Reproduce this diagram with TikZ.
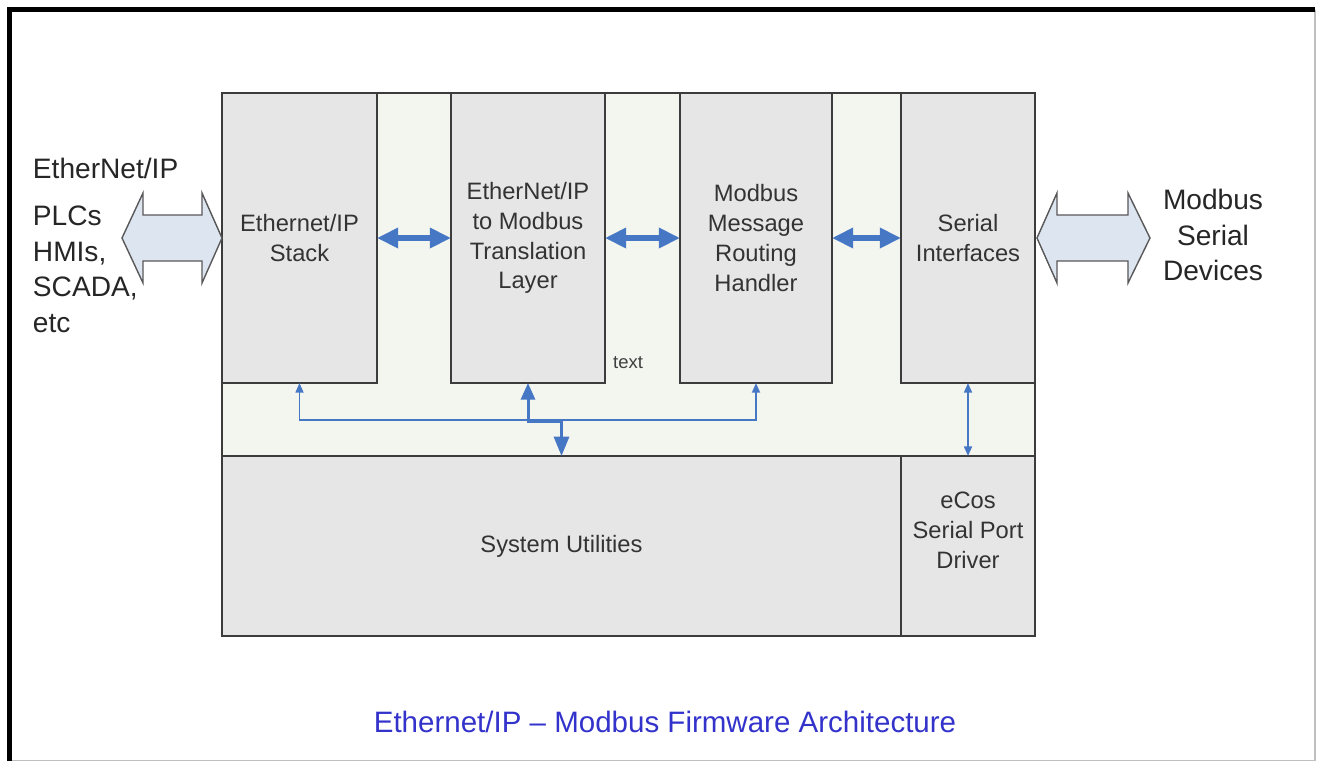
\documentclass[tikz,border=0pt]{standalone}
\usepackage{fontspec}
\setmainfont{Liberation Sans}
\usepackage{tikz}
\usetikzlibrary{arrows.meta}
\usetikzlibrary{shapes}
\definecolor{boxgray}{HTML}{E6E6E6}
\definecolor{bandgreen}{HTML}{F3F5EF}
\definecolor{edgegray}{HTML}{3C3C3C}
\definecolor{linkblue}{HTML}{4677C4}
\definecolor{fatblue}{HTML}{DDE5F1}
\definecolor{titleblue}{HTML}{3333CC}
\tikzstyle{block}=[draw=edgegray,fill=boxgray,inner sep=0mm,outer sep=0mm,text=black!80,align=center,font=\fontsize{13.5}{17}\selectfont]
\tikzstyle{band}=[draw=edgegray,fill=bandgreen,inner sep=0mm,outer sep=0mm]
\tikzstyle{side}=[inner sep=0mm,text=black!85,font=\fontsize{16}{20.3}\selectfont]
\tikzstyle{fat}=[draw=black!65,fill=fatblue,line width=0.8pt,line join=miter]
\tikzstyle{link}=[linkblue,line width=3.2pt,{Triangle[length=12pt,width=11pt]}-{Triangle[length=12pt,width=11pt]}]
\tikzstyle{bus}=[linkblue,line width=1.1pt,{Triangle[length=5.5pt,width=4.5pt]}-{Triangle[length=5.5pt,width=4.5pt]}]
\tikzstyle{tap}=[linkblue,line width=1.7pt,{Triangle[length=9.5pt,width=8pt]}-{Triangle[length=11pt,width=8.5pt]}]
\tikzset{every picture/.style={
    line width=1.1pt
  }
}
\begin{document}
\begin{tikzpicture}[x=0.02cm,y=-0.02cm]
      \useasboundingbox (0,0) rectangle (1317,762);
      \fill[white] (0,0) rectangle (1317,762);
      \draw[black!25,line width=0.6pt] (9.5,760.5) -- (1315,760.5) -- (1315,9.5);
      \draw[black,line width=2.8pt] (9.5,760.5) -- (9.5,9.5) -- (1315,9.5);
      % the board and its layers
      \node[band,minimum width=16.26cm,minimum height=10.86cm] (board) at (628.5,364.5) {};
      \node[block,minimum width=3.1cm,minimum height=5.8cm] (stack) at (299.5,238) {Ethernet/IP\\Stack};
      \node[block,minimum width=3.08cm,minimum height=5.8cm] (trans) at (528,238) {EtherNet/IP\\to Modbus\\Translation\\Layer};
      \node[block,minimum width=3.04cm,minimum height=5.8cm] (router) at (756,238) {Modbus\\Message\\Routing\\Handler};
      \node[block,minimum width=2.68cm,minimum height=5.8cm] (serial) at (968,238) {Serial\\Interfaces};
      \node[block,minimum width=13.58cm,minimum height=3.6cm] (utils) at (561.5,546) {System Utilities};
      \node[block,minimum width=2.68cm,minimum height=3.6cm] (ecos) at (968,546) {};
      \node[block,draw=none,fill=none] (ecostext) at ([yshift=0.32cm]ecos.center) {eCos\\Serial Port\\Driver};
      \node[text=black!75,font=\fontsize{10.5}{12}\selectfont] (note) at (628,363) {text};
      % arrows between the layers
      \draw[link] (stack.east) -- (trans.west);
      \draw[link] (trans.east) -- (router.west);
      \draw[link] (router.east) -- (serial.west);
      \draw[bus] (stack.south) -- ++(0,37) -| (router.south);
      \draw[tap] (trans.south) -- ++(0,39) -| (utils.north);
      \draw[bus] (serial.south) -- (ecos.north);
      % outside world
      \draw[fat] (stack.west) -- ++(-20,-45) -- ++(0,22) -- ++(-59,0) -- ++(0,-22) -- ++(-21,45)
        -- ++(21,45) -- ++(0,-22) -- ++(59,0) -- ++(0,22) -- cycle;
      \draw[fat] ([xshift=0.04cm]serial.east) -- ++(20,-45) -- ++(0,22) -- ++(71,0) -- ++(0,-22) -- ++(22,45)
        -- ++(-22,45) -- ++(0,-22) -- ++(-71,0) -- ++(0,22) -- cycle;
      \node[side,anchor=west] (eip) at (32,168) {EtherNet/IP};
      \node[side,anchor=north west,align=left] (plcs) at (32,205) {PLCs\\HMIs,\\SCADA,\\etc};
      \node[side,anchor=north,align=center] (devices) at (1213,188) {Modbus\\Serial\\Devices};
      \node[text=titleblue,font=\fontsize{16.8}{20}\selectfont] (caption) at (665,722) {Ethernet/IP \textendash{} Modbus Firmware Architecture};
    \end{tikzpicture}
\end{document}
